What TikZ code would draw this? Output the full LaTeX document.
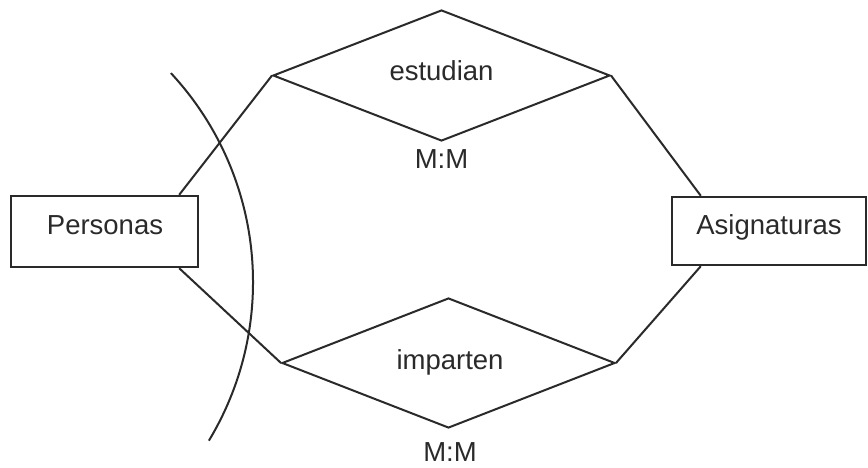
\documentclass[tikz,border=0pt]{standalone}
\usepackage{fontspec}
\setmainfont{Liberation Sans}
\usetikzlibrary{shapes.geometric}
\definecolor{ink}{HTML}{2A2A2A}
\begin{document}
\begin{tikzpicture}[x=1pt,y=1pt,
  entity/.style={draw=ink,line width=2.4pt,rectangle,inner sep=0pt},
  relship/.style={draw=ink,line width=2pt,diamond,inner sep=0pt},
  lbl/.style={anchor=base,inner sep=0pt,text=ink,font=\fontsize{27.5}{31}\selectfont},
  conn/.style={draw=ink,line width=2pt},
  cut/.style={draw=ink,line width=2pt}]
\useasboundingbox (0,0) rectangle (868,467);
\fill[white] (0,0) rectangle (868,467);
% entities
\node[entity,minimum width=187pt,minimum height=71pt] (pers) at (104.5,235.5) {};
\node[lbl] (perst) at (105,233) {Personas};
\node[entity,minimum width=194pt,minimum height=68pt] (asig) at (769,236) {};
\node[lbl] (asigt) at (769,233) {Asignaturas};
% relationships
\node[relship,minimum width=337pt,minimum height=131pt] (est) at (441.5,391.5) {};
\node[lbl] (estt) at (441.5,386) {estudian};
\node[lbl] (estc) at (441.5,299) {M:M};
\node[relship,minimum width=333pt,minimum height=130pt] (imp) at (448.5,104) {};
\node[lbl] (impt) at (450,98) {imparten};
\node[lbl] (impc) at (450,6) {M:M};
% connectors
\draw[conn] ([xshift=-20pt]pers.north east) -- (est.west);
\draw[conn] ([xshift=-20pt]pers.south east) -- (imp.west);
\draw[conn] ([xshift=30pt]asig.north west) -- (est.east);
\draw[conn] ([xshift=30pt]asig.south west) -- (imp.east);
% cut arc
\coordinate (arcstart) at (170.9,393.9);
\draw[cut] (arcstart) arc[start angle=42.9, end angle=-31.1, radius=307pt];
\end{tikzpicture}
\end{document}
